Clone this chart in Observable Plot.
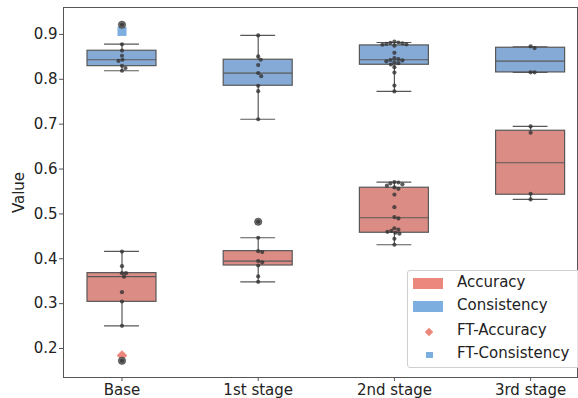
<!DOCTYPE html>
<html><head><meta charset="utf-8">
<script src="https://cdn.jsdelivr.net/npm/d3@7"></script>
<script src="https://cdn.jsdelivr.net/npm/@observablehq/plot@0.6"></script>
<style>
html,body{margin:0;padding:0;background:#fff;overflow:hidden;width:578px;height:398px;}
#wrap{position:relative;width:578px;height:398px;overflow:hidden;font-family:"DejaVu Sans",sans-serif;}
#legend{position:absolute;left:407px;top:270px;width:200px;height:98px;border:1px solid #cfcfcf;border-radius:3px;background:rgba(255,255,255,0.85);box-sizing:border-box;}
#legend .sw{position:absolute;}
#legend .tx{position:absolute;left:49px;font-size:15px;line-height:15px;color:#222;white-space:nowrap;}
</style>
</head><body><div id="wrap"></div>
<script>
const categories = ["Base", "1st stage", "2nd stage", "3rd stage"];

// box statistics
const accQ1  = [0.304, 0.385, 0.458, 0.5427];
const accMed = [0.360, 0.3947, 0.4914, 0.614];
const accQ3  = [0.368, 0.417, 0.5583, 0.6853];
const accLo  = [0.2506, 0.3487, 0.4312, 0.5322];
const accHi  = [0.4163, 0.4468, 0.5708, 0.6949];
const consQ1  = [0.8293, 0.7856, 0.8324, 0.8153];
const consMed = [0.8436, 0.8138, 0.8436, 0.8405];
const consQ3  = [0.8636, 0.8436, 0.8755, 0.8703];
const consLo  = [0.819, 0.711, 0.773, 0.8153];
const consHi  = [0.8784, 0.8978, 0.882, 0.8725];

// individual observations (swarm points)
const accPoints = [
  [0.416, 0.3835, 0.368, 0.368, 0.360, 0.3256, 0.3048, 0.2506, 0.1727],
  [0.4825, 0.4468, 0.417, 0.415, 0.395, 0.392, 0.385, 0.3606, 0.3487],
  [0.571, 0.570, 0.568, 0.566, 0.563, 0.559, 0.556, 0.543, 0.515, 0.493, 0.490, 0.468, 0.465, 0.462, 0.460, 0.458, 0.456, 0.4446, 0.4312],
  [0.6949, 0.681, 0.5449, 0.5322]
];
const consPoints = [
  [0.9216, 0.878, 0.864, 0.8525, 0.8436, 0.841, 0.830, 0.825, 0.819],
  [0.8978, 0.851, 0.8436, 0.8316, 0.8138, 0.807, 0.7856, 0.7736, 0.711],
  [0.884, 0.882, 0.881, 0.880, 0.879, 0.878, 0.877, 0.875, 0.859, 0.847, 0.845, 0.843, 0.842, 0.840, 0.838, 0.836, 0.833, 0.827, 0.815, 0.786, 0.773],
  [0.8735, 0.8695, 0.8156, 0.8156]
];

// outliers (fliers)
const flierStage = [0, 1, 0];
const flierValue = [0.1727, 0.4825, 0.9216];

// fine-tuned results
const ftAccStage = [0], ftAccValue = [0.1844];
const ftConsStage = [0], ftConsValue = [0.9067];

const accBoxColor = "#db8d85", consBoxColor = "#86aad6";
const accColor = "#ec877d", consColor = "#7daee0";
const edge = "#585858";

const yDomain = [0.1354, 0.960];
const xDomain = [-0.4295, 3.3443];
const W = 578, H = 398, mL = 63, mR = 1, mT = 7, mB = 21;

const boxHW = 0.2533, capHW = 0.128;

function boxRows(q1, med, q3, lo, hi) {
  return categories.map((c, i) => ({i, q1: q1[i], med: med[i], q3: q3[i], lo: lo[i], hi: hi[i]}));
}
const accBoxes = boxRows(accQ1, accMed, accQ3, accLo, accHi);
const consBoxes = boxRows(consQ1, consMed, consQ3, consLo, consHi);

// simple beeswarm layout (pixel based) -> offsets in x units
const pxPerUnitX = (W - mL - mR) / (xDomain[1] - xDomain[0]);
const yPix = d3.scaleLinear().domain(yDomain).range([H - mB, mT]);
function swarm(groups) {
  const out = [];
  const d = 4.0;
  groups.forEach((vals, i) => {
    const placed = [];
    const items = vals.map(v => ({v, py: yPix(v)})).sort((a, b) => a.py - b.py);
    for (const p of items) {
      let off = 0;
      for (let k = 0; k < 200; k++) {
        const cand = k === 0 ? 0 : (k % 2 ? 1 : -1) * Math.ceil(k / 2) * 0.5;
        if (placed.every(q => (q.px - cand) ** 2 + (q.py - p.py) ** 2 >= d * d)) { off = cand; break; }
      }
      placed.push({px: off, py: p.py});
      out.push({x: i + off / pxPerUnitX, y: p.v});
    }
  });
  return out;
}
const accSwarm = swarm(accPoints);
const consSwarm = swarm(consPoints);

function boxMarks(rows, fill) {
  return [
    Plot.ruleX(rows, {x: "i", y1: "lo", y2: "q1", stroke: edge, strokeWidth: 1.2}),
    Plot.ruleX(rows, {x: "i", y1: "q3", y2: "hi", stroke: edge, strokeWidth: 1.2}),
    Plot.ruleY(rows, {y: "lo", x1: d => d.i - capHW, x2: d => d.i + capHW, stroke: edge, strokeWidth: 1.2}),
    Plot.ruleY(rows, {y: "hi", x1: d => d.i - capHW, x2: d => d.i + capHW, stroke: edge, strokeWidth: 1.2}),
    Plot.rectY(rows, {x1: d => d.i - boxHW, x2: d => d.i + boxHW, y1: "q1", y2: "q3", fill, stroke: edge, strokeWidth: 1.2}),
    Plot.ruleY(rows, {y: "med", x1: d => d.i - boxHW, x2: d => d.i + boxHW, stroke: edge, strokeWidth: 1.2})
  ];
}

const chart = Plot.plot({
  width: W, height: H,
  marginLeft: mL, marginRight: mR, marginTop: mT, marginBottom: mB,
  style: {fontSize: "15px", fontFamily: "DejaVu Sans", color: "#222", background: "#fff"},
  x: {type: "linear", domain: xDomain},
  y: {domain: yDomain},
  marks: [
    Plot.axisY({ticks: [0.2, 0.3, 0.4, 0.5, 0.6, 0.7, 0.8, 0.9], tickFormat: d3.format(".1f"), tickSize: 4, tickPadding: 2, stroke: "#555",
      label: "Value", labelAnchor: "center", labelArrow: "none", labelOffset: 50}),
    Plot.axisX({ticks: [0, 1, 2, 3], tickFormat: i => categories[i], tickSize: 4, tickPadding: 3, stroke: "#555", label: null}),
    ...boxMarks(consBoxes, consBoxColor),
    ...boxMarks(accBoxes, accBoxColor),
    Plot.dot(ftAccStage.map((s, k) => ({x: s, y: ftAccValue[k]})), {x: "x", y: "y", symbol: "diamond2", r: 4.8, fill: accColor, stroke: "none"}),
    Plot.dot(ftConsStage.map((s, k) => ({x: s, y: ftConsValue[k]})), {x: "x", y: "y", symbol: "square", r: 5.1, fill: consColor, stroke: "none"}),
    Plot.dot(flierStage.map((s, k) => ({x: s, y: flierValue[k]})), {x: "x", y: "y", r: 3.6, fill: "#6f6f6f", stroke: "#444", strokeWidth: 0.8}),
    Plot.dot(consSwarm, {x: "x", y: "y", r: 2.1, fill: "#333", fillOpacity: 0.8}),
    Plot.dot(accSwarm, {x: "x", y: "y", r: 2.1, fill: "#333", fillOpacity: 0.8}),
    Plot.frame({stroke: "#555", strokeWidth: 1})
  ]
});
const wrap = document.getElementById("wrap");
wrap.appendChild(chart);

// legend (inside the plot area, clipped at the right edge)
const legendLabels = ["Accuracy", "Consistency", "FT-Accuracy", "FT-Consistency"];
const leg = document.createElement("div");
leg.id = "legend";
const rowsY = [13, 36, 61, 84];
legendLabels.forEach((lab, k) => {
  const sw = document.createElement("div");
  sw.className = "sw";
  if (k < 2) {
    Object.assign(sw.style, {left: "5px", top: (rowsY[k] - 6) + "px", width: "30px", height: "11px", background: k === 0 ? accColor : consColor});
  } else if (k === 2) {
    Object.assign(sw.style, {left: "18px", top: (rowsY[k] - 3.5) + "px", width: "6px", height: "6px", background: accColor, transform: "rotate(45deg)"});
  } else {
    Object.assign(sw.style, {left: "18px", top: (rowsY[k] - 3.5) + "px", width: "6.5px", height: "6.5px", background: consColor});
  }
  leg.appendChild(sw);
  const tx = document.createElement("div");
  tx.className = "tx";
  tx.style.top = (rowsY[k] - 9) + "px";
  tx.textContent = lab;
  leg.appendChild(tx);
});
wrap.appendChild(leg);
</script>
</body></html>
